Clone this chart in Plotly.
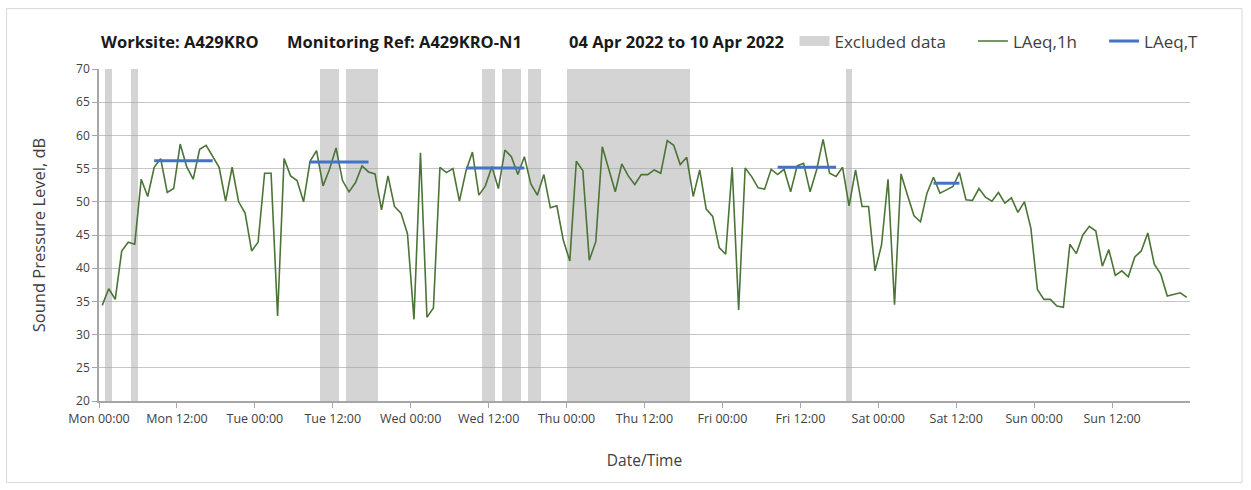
import numpy as np
import pandas as pd
import plotly.graph_objects as go

# ---------------- data ----------------
start_time = "2022-04-04 00:00"
laeq_1h = [
    34.4, 36.9, 35.3, 42.6, 43.9, 43.6, 53.4, 50.8, 55.2, 56.5, 51.4, 52.0, 58.7, 55.3, 53.4,
    57.9, 58.5, 56.8, 55.2, 50.1, 55.2, 50.0, 48.3, 42.6, 43.9, 54.3, 54.3, 32.8, 56.5, 53.9,
    53.2, 50.0, 56.1, 57.7, 52.4, 54.9, 58.1, 53.2, 51.5, 52.9, 55.4, 54.5, 54.2, 48.8, 53.9,
    49.3, 48.3, 45.2, 32.3, 57.4, 32.6, 34.0, 55.2, 54.4, 55.0, 50.1, 54.6, 57.5, 51.0, 52.4,
    55.3, 52.0, 57.8, 56.8, 54.1, 56.8, 52.7, 51.0, 54.1, 49.1, 49.4, 44.2, 41.1, 56.1, 54.7,
    41.2, 44.0, 58.3, 54.9, 51.5, 55.7, 53.9, 52.6, 54.1, 54.1, 54.8, 54.3, 59.2, 58.5, 55.6,
    56.7, 50.8, 54.8, 48.9, 47.8, 43.1, 42.1, 55.2, 33.7, 55.1, 53.8, 52.1, 51.9, 54.9, 54.1,
    54.9, 51.5, 55.4, 55.8, 51.5, 54.8, 59.4, 54.3, 53.8, 55.2, 49.4, 54.8, 49.3, 49.3, 39.6,
    43.5, 53.4, 34.5, 54.2, 51.0, 47.9, 47.0, 51.3, 53.7, 51.3, 51.8, 52.3, 54.4, 50.3,
    50.2, 52.0, 50.7, 50.1, 51.4, 49.8, 50.6, 48.4, 50.0, 46.0, 36.8, 35.3, 35.3, 34.3, 34.1,
    43.6, 42.2, 45.0, 46.3, 45.6, 40.3, 42.8, 38.9, 39.6, 38.7, 41.7, 42.6, 45.3, 40.6, 39.1,
    35.8, 36.0, 36.3, 35.6,
]
# LAeq,T periods (first / last hour index) and values
laeqt_first_hour = [8, 32, 56, 104, 128]
laeqt_last_hour = [17, 41, 65, 113, 132]
laeqt_values = [56.2, 56.0, 55.1, 55.2, 52.8]
# Excluded data periods (hours from start)
excl_start_hour = [1, 5, 34, 38, 59, 62, 66, 72, 115]
excl_end_hour = [2, 6, 37, 43, 61, 65, 68, 91, 116]
# axis ticks
tick_labels = ["Mon 00:00", "Mon 12:00", "Tue 00:00", "Tue 12:00", "Wed 00:00", "Wed 12:00",
               "Thu 00:00", "Thu 12:00", "Fri 00:00", "Fri 12:00", "Sat 00:00", "Sat 12:00",
               "Sun 00:00", "Sun 12:00"]
y_min, y_max, y_step = 20, 70, 5

# ---------------- derived ----------------
t0 = pd.Timestamp(start_time)
hour = pd.Timedelta(hours=1)
times = [t0 + (i + 0.5) * hour for i in range(len(laeq_1h))]

lt_x, lt_y = [], []
for a, b, v in zip(laeqt_first_hour, laeqt_last_hour, laeqt_values):
    for i in range(a, b + 1):
        lt_x.append(t0 + (i + 0.5) * hour)
        lt_y.append(v)
    lt_x.append(None)
    lt_y.append(None)

ex_mid = [t0 + (a + b) / 2 * hour for a, b in zip(excl_start_hour, excl_end_hour)]
ex_w = [(b - a) * 3600 * 1000 for a, b in zip(excl_start_hour, excl_end_hour)]
ex_h = [y_max - y_min] * len(ex_mid)

x_end = t0 + 168 * hour
tick_vals = [t0 + 12 * k * hour for k in range(len(tick_labels))]
grid_vals = [t0 + 24 * k * hour for k in range(8)]

FONT = "Open Sans"
TXT = "#404040"
NB = "\u00a0"
BAND = "rgba(165,165,165,0.48)"

fig = go.Figure()
fig.add_trace(go.Bar(x=ex_mid, y=ex_h, base=y_min, width=ex_w, name="Excluded data",
                     marker=dict(color=BAND, line=dict(width=0)), showlegend=False,
                     xaxis="x2", yaxis="y", hoverinfo="skip"))
# legend entry for the excluded bands (wide grey box)
fig.add_trace(go.Scatter(x=[None], y=[None], mode="lines", name="Excluded data" + NB * 5,
                         line=dict(color="#d4d4d4", width=14), xaxis="x2", yaxis="y"))
fig.add_trace(go.Scatter(x=times, y=laeq_1h, mode="lines", name="LAeq,1h" + NB * 5,
                         line=dict(color="#4b7436", width=1.6), xaxis="x2", yaxis="y"))
fig.add_trace(go.Scatter(x=lt_x, y=lt_y, mode="lines", name="LAeq,T",
                         line=dict(color="#4472c4", width=3), xaxis="x2", yaxis="y",
                         connectgaps=False))

fig.update_layout(
    width=1251, height=490,
    margin=dict(l=99, r=61, t=69, b=89),
    paper_bgcolor="white", plot_bgcolor="white",
    font=dict(family=FONT, color=TXT, size=12),
    bargap=0,
    showlegend=True,
    legend=dict(orientation="h", x=0.6375, y=1.083, xanchor="left", yanchor="middle",
                font=dict(size=17, color=TXT, family=FONT), traceorder="normal",
                bgcolor="rgba(0,0,0,0)"),
    xaxis=dict(type="date", range=[t0, x_end], tickvals=grid_vals, showticklabels=False,
               showgrid=True, gridcolor="#dadada", gridwidth=1, ticks="", showline=False,
               zeroline=False, anchor="y", automargin=False),
    xaxis2=dict(type="date", range=[t0, x_end], overlaying="x", anchor="y", side="bottom",
                tickvals=tick_vals, ticktext=tick_labels, showgrid=False, ticks="outside",
                ticklen=5, tickcolor="#a6a6a6", showline=True, linecolor="#a6a6a6",
                linewidth=1.5, tickfont=dict(size=12.5, color=TXT), zeroline=False,
                automargin=False,
                title=dict(text="Date/Time", font=dict(size=15.5, color=TXT), standoff=29)),
    yaxis=dict(range=[y_min, y_max], dtick=y_step, tick0=y_min, showgrid=True,
               gridcolor="#c6c6c6", gridwidth=1, ticks="outside", ticklen=5,
               tickcolor="#a6a6a6", showline=True, linecolor="#a6a6a6", linewidth=1.5,
               zeroline=False, tickfont=dict(size=12, color=TXT), automargin=False,
               title=dict(text="Sound Pressure Level, dB", font=dict(size=16.5, color=TXT),
                          standoff=26)),
)

px_w = 1090.6
px_h = 331.4
def xp(px):
    return (px - 99.4) / px_w
def yp(py):
    return (400.7 - py) / px_h

title_parts = [("Worksite: A429KRO", 99), ("Monitoring Ref: A429KRO-N1", 285),
               ("04 Apr 2022 to 10 Apr 2022", 567)]
for txt, px in title_parts:
    fig.add_annotation(text="<b>%s</b>" % txt, xref="paper", yref="paper", x=xp(px), y=yp(42),
                       xanchor="left", yanchor="middle", showarrow=False,
                       font=dict(size=16.5, color="#1a1a1a", family=FONT))

fig.add_shape(type="rect", xref="paper", yref="paper", x0=xp(7), x1=xp(1242), y0=yp(482),
              y1=yp(9), line=dict(color="#d9d9d9", width=1), fillcolor="rgba(0,0,0,0)",
              layer="below")

fig.write_html("out.html", config={"displayModeBar": False},
               post_script="document.body.style.margin='0';")
